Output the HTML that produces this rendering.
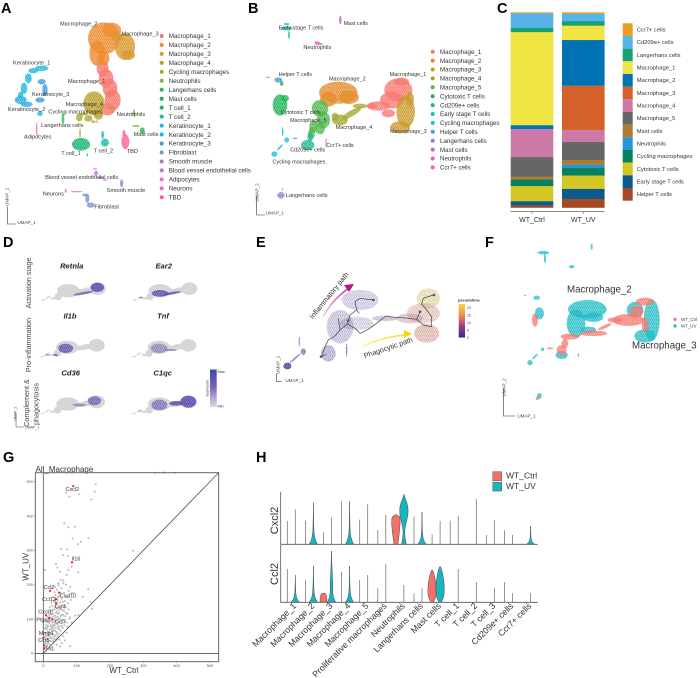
<!DOCTYPE html>
<html lang="en">
<head>
<meta charset="utf-8">
<title>Macrophage single-cell figure</title>
<style>
html,body{margin:0;padding:0;background:#fff;}
body{width:700px;height:678px;overflow:hidden;}
svg{display:block;filter:blur(.3px);font-family:"Liberation Sans",sans-serif;}
text{fill:#333;}
.letter{font-size:14.5px;font-weight:700;fill:#000;}
.rowlabel{font-size:7.2px;fill:#444;text-anchor:middle;}
.gene{font-size:7.6px;font-weight:700;font-style:italic;fill:#222;text-anchor:middle;}
.tiny{font-size:4.4px;fill:#444;}
</style>
</head>
<body>
<svg id="figure" width="700" height="678" viewBox="0 0 700 678" xmlns="http://www.w3.org/2000/svg">
<defs id="defs">
<linearGradient id="exprGrad" x1="0" y1="0" x2="0" y2="1"><stop offset="0" stop-color="#3a4ea8"/><stop offset=".45" stop-color="#7a62b5"/><stop offset="1" stop-color="#dcdcdc"/></linearGradient>
<linearGradient id="pseudoGrad" x1="0" y1="0" x2="0" y2="1"><stop offset="0" stop-color="#fbd53a"/><stop offset=".35" stop-color="#e98a55"/><stop offset=".65" stop-color="#a0408a"/><stop offset="1" stop-color="#2c2a86"/></linearGradient>
<linearGradient id="magGrad" gradientUnits="userSpaceOnUse" x1="323" y1="317" x2="352" y2="285"><stop offset="0" stop-color="#f6d4ea"/><stop offset="1" stop-color="#b3168c"/></linearGradient>
<linearGradient id="yelGrad" gradientUnits="userSpaceOnUse" x1="362" y1="347" x2="410" y2="334"><stop offset="0" stop-color="#fdf6c0"/><stop offset="1" stop-color="#f5d800"/></linearGradient>
<filter id="soft" x="-20%" y="-20%" width="140%" height="140%"><feGaussianBlur stdDeviation="0.25"/></filter>
</defs>

<text class="letter" x="1" y="13">A</text>
<text class="letter" x="248" y="13">B</text>
<text class="letter" x="497" y="13">C</text>
<text class="letter" x="3" y="247">D</text>
<text class="letter" x="256" y="247">E</text>
<text class="letter" x="485" y="247">F</text>
<text class="letter" x="3" y="462">G</text>
<text class="letter" x="256" y="462">H</text>

<g id="panelA"></g>
<g id="panelB"></g>
<g id="panelC"></g>

<g id="panelD">
<text class="rowlabel" transform="translate(31,283) rotate(-90)">Activation stage</text>
<text class="rowlabel" transform="translate(31,345) rotate(-90)">Pro-inflammation</text>
<text class="rowlabel" transform="translate(29,403) rotate(-90)">Complement &amp;</text>
<text class="rowlabel" transform="translate(38.5,404) rotate(-90)">phagocytosis</text>
<text class="gene" x="71.7" y="268.5">Retnla</text>
<text class="gene" x="163.7" y="268.5">Ear2</text>
<text class="gene" x="70" y="318.5">Il1b</text>
<text class="gene" x="163" y="318.5">Tnf</text>
<text class="gene" x="70.7" y="375.5">Cd36</text>
<text class="gene" x="162.7" y="375.5">C1qc</text>
<rect x="210" y="369.5" width="6.7" height="37.5" fill="url(#exprGrad)"/>
<text x="217.5" y="373" style="font-size:3.8px">Max.</text>
<text x="217.5" y="407.5" style="font-size:3.8px">Min.</text>
<text transform="translate(208.5,388) rotate(-90)" style="font-size:3.4px;text-anchor:middle">Expression</text>
<path d="M16 413V427H24" fill="none" stroke="#444" stroke-width=".5"/>
<text class="tiny" transform="translate(16.5,421) rotate(-90)" style="font-size:3.6px">UMAP_2</text>
<text class="tiny" x="25" y="428.5" style="font-size:3.6px">UMAP_1</text>
</g>

<g id="panelE"></g>
<g>
<path d="M323 317Q333 298 352 286" fill="none" stroke="url(#magGrad)" stroke-width="1.6"/>
<polygon points="354,284 344,285 349,292" fill="#b3168c"/>
<path d="M362 347Q383 336 408 335" fill="none" stroke="url(#yelGrad)" stroke-width="1.6"/>
<polygon points="412,334 404,330 404,338" fill="#f5d800"/>
<text transform="translate(331,297) rotate(-51)" style="font-size:7.2px;text-anchor:middle;fill:#333">Inflammatory path</text>
<text transform="translate(389,350) rotate(-19)" style="font-size:7.2px;text-anchor:middle;fill:#333">Phagocytic path</text>
<rect x="458.7" y="304" width="6.3" height="33.5" fill="url(#pseudoGrad)"/>
<text x="458" y="301.5" style="font-size:3.9px;font-weight:700">pseudotime</text>
<text x="467" y="309" style="font-size:3.4px">20</text>
<text x="467" y="316.5" style="font-size:3.4px">15</text>
<text x="467" y="324" style="font-size:3.4px">10</text>
<text x="467" y="331.5" style="font-size:3.4px">5</text>
<text x="467" y="339" style="font-size:3.4px">0</text>
</g>

<g id="panelF"></g>

<g id="panelG">
<text x="35.5" y="472" style="font-size:8px;fill:#333">All_Macrophage</text>
<text x="124" y="673" style="font-size:8px;text-anchor:middle;fill:#333">WT_Ctrl</text>
<text transform="translate(28.5,566.7) rotate(-90)" style="font-size:8px;text-anchor:middle;fill:#333">WT_UV</text>
</g>

<g id="panelH">
<text transform="translate(278,520.5) rotate(-90)" style="font-size:11px;text-anchor:middle;fill:#333">Cxcl2</text>
<text transform="translate(278,574) rotate(-90)" style="font-size:11px;text-anchor:middle;fill:#333">Ccl2</text>
</g>
</svg>
<script>
/* ---------- Panel A: UMAP blobs in UMAP units ---------- */
const panelANames = ['Macrophage_1','Macrophage_2','Macrophage_3','Macrophage_4','Cycling macrophages','Neutrophils','Langerhans cells','Mast cells','T cell_1','T cell_2','Keratinocyte_1','Keratinocyte_2','Keratinocyte_3','Fibroblast','Smooth muscle','Blood vessel endothelial cells','Adipocytes','Neurons','TBD'];
const panelAColors = ['#F8766D','#EE8A2E','#D9982B','#B9A029','#A9A82B','#7FB83A','#2DB84A','#22B050','#16B46E','#14BDAA','#1FB8DC','#22AEE8','#3A9BE0','#7C92D6','#A77BD6','#C46FD6','#EE6FC7','#F564B0','#F9619D'];
const panelABlobs = [
 [[308,205,18,24],[318,235,22,28],[330,265,22,28],[338,300,24,32],[322,328,24,18],[290,365,3,4],[275,355,3,3]],
 [[312,115,48,48],[292,160,24,38],[335,90,28,22],[310,175,18,22]],
 [[375,140,30,40],[350,110,17,15],[385,165,20,15]],
 [[282,310,32,36],[295,345,14,14]],
 [[238,352,10,12],[265,355,12,10],[250,342,14,4],[240,400,2.5,15],[280,365,6,4]],
 [[400,340,8,3],[402,338,3,12],[408,378,12,3],[335,325,5,2],[330,340,2,2]],
 [[189,355,4,18]],
 [[427,392,7,10]],
 [[243,433,27,19],[262,465,2,5]],
 [[315,428,12,12],[308,405,4,12]],
 [[125,205,20,8],[100,212,15,8],[85,235,10,15],[72,265,10,17],[62,285,8,10]],
 [[62,300,18,12],[80,313,18,8],[120,340,8,8]],
 [[125,245,12,8],[135,270,8,18],[120,300,14,8]],
 [[262,595,6,14],[272,615,12,8],[255,585,8,4]],
 [[365,550,5,12]],
 [[288,520,6,8],[300,533,9,3],[315,540,6,2],[285,507,6,2]],
 [[110,385,2.5,18],[114,405,2,6]],
 [[197,573,3,6],[230,575,18,2]],
 [[376,425,12,22],[372,400,5,10]]
];
const panelALabels = [['Macrophage_2',236,71],['Macrophage_3',420,101],['Keratinocyte_1',95,188],['Macrophage_1',260,244],['Keratinocyte_3',152,282],['Macrophage_4',253,312],['Keratinocyte_2',80,328],['Cycling macrophages',226,335],['Neutrophils',393,343],['Langerhans cells',187,375],['Adipocytes',113,410],['Mast cells',438,403],['T cell_1',213,459],['T cell_2',310,452],['TBD',397,454],['Blood vessel endothelial cells',245,532],['Smooth muscle',378,570],['Neurons',160,581],['Fibroblast',320,620]];

/* ---------- Panel B ---------- */
const panelBNames = ['Macrophage_1','Macrophage_2','Macrophage_3','Macrophage_4','Macrophage_5','Cytotoxic T cells','Cd209e+ cells','Early stage T cells','Cycling macrophages','Helper T cells','Langerhans cells','Mast cells','Neutrophils','Ccr7+ cells'];
const panelBColors = ['#F8766D','#E58A28','#C99A2A','#A3A52A','#4DB848','#1FB254','#17B890','#17BDB8','#20B5E8','#4A97E0','#8C80D2','#B66DC8','#E55FC0','#FB61A0'];
const panelBBlobs = [
 [[460,270,42,35],[440,300,35,25],[400,318,35,14],[470,245,22,12],[430,340,20,12],[380,318,15,8]],
 [[280,278,58,33],[250,298,25,22],[312,292,30,20]],
 [[482,335,28,48],[495,298,12,22],[465,382,30,18]],
 [[285,360,24,16],[320,340,32,9,-30],[345,318,22,7],[270,350,10,12]],
 [[225,325,25,25],[235,360,20,25],[225,385,15,18],[205,380,12,18],[200,400,10,18]],
 [[105,315,22,32],[120,295,12,10],[110,250,5,8]],
 [[188,435,20,15],[195,410,8,15]],
 [[125,85,18,6],[132,105,3,12],[125,72,8,3]],
 [[88,462,9,8],[105,442,12,3,-45],[125,420,7,8],[113,395,2.5,14],[150,415,8,2]],
 [[100,240,12,8],[68,232,6,2]],
 [[108,586,11,10],[112,568,2,4]],
 [[286,60,4,13]],
 [[218,130,8,6],[212,127,4,3],[228,132,5,3]],
 [[243,428,2,15]]
];
const panelBLabels = [['Early stage T cells',168,83],['Mast cells',332,69],['Neutrophils',217,142],['Helper T cells',151,222],['Macrophage_2',307,236],['Macrophage_1',489,222],['Cytotoxic T cells',167,336],['Macrophage_5',190,361],['Macrophage_4',327,382],['Macrophage_3',490,394],['Cd209e+ cells',188,449],['Ccr7+ cells',285,436],['Cycling macrophages',162,485],['Langerhans cells',185,585]];

/* ---------- Panel C ---------- */
const stackCategories = ['Ccr7+ cells','Cd209e+ cells','Langerhans cells','Macrophage_1','Macrophage_2','Macrophage_3','Macrophage_4','Macrophage_5','Mast cells','Neutrophils','Cycling macrophages','Cytotoxic T cells','Early stage T cells','Helper T cells'];
const stackColors = ['#E9A020','#56B4E9','#18A070','#F0E442','#0072B2','#D4612A','#CC79A7','#666666','#AD7C2F','#2596D6','#067F5A','#D4C724','#0A5A8E','#A34A22'];
const stackGroups = ['WT_Ctrl','WT_UV'];
const stackCtrl = [0.5,7.5,2.2,47.6,2.0,0,14.3,10.1,1.4,0,3.4,7.7,2.2,1.1];
const stackUV = [0.7,3.8,2.4,7.3,23.4,22.7,6.1,9.2,2.4,1.7,3.9,6.8,5.1,4.5];

/* ---------- Panel D ---------- */
const featureGenes = ['Retnla','Ear2','Il1b','Tnf','Cd36','C1qc'];
const featureOffsetU = [0,275,-3,272,-2,273];
const featureOffsetV = [0,0,170,170,340,340];
const featureBase = [[130,210,7,1.8,-20],[145,202,8,2.4,-30],[160,205,8,3.5],[175,200,11,11],[205,182,34,20],[242,184,25,7],[265,180,18,8],[293,176,24,19]];
const featureExpression = [
 [[292,172,20,14,0,1],[250,190,30,4,-10,.85]],
 [[205,190,25,10,0,.9],[240,190,28,4,-10,.95],[148,203,6,2,0,.8]],
 [[200,185,22,14,0,.85],[170,205,7,3,0,.8],[145,205,8,2,0,.7]],
 [[205,185,25,14,0,.45],[240,190,20,3,0,.6]],
 [[285,172,20,14,0,.7],[240,185,20,4,0,.55]],
 [[292,175,24,18,0,1],[255,180,20,7,0,1],[205,185,24,16,0,.6],[148,203,6,2,0,.4]]
];

/* ---------- Panel E ---------- */
const trajectoryBlobs = [
 [[505,205,35,30],'#c9b460',.42],[[490,250,50,30],'#c98a78',.4],[[500,310,38,28],'#c8806e',.48],[[450,265,40,15],'#b27a90',.4],
 [[300,210,55,30],'#7a68a8',.3],[[240,290,40,50],'#6b5a9b',.32],[[290,280,50,20],'#6b5a9b',.24],[[205,370,22,25],'#6b5a9b',.42],[[375,265,40,8],'#8a6a98',.4],
 [[82,408,12,10],'#45308c',.95],[[130,365,8,10],'#6a4fa0',.7],[[118,335,2,15],'#6a4fa0',.7],[[105,385,22,3,-40],'#6a4fa0',.7],[[260,360,2,20],'#5a4596',.7]
];
const trajectoryLines = [
 [[185,380],[195,350],[205,330],[225,318],[240,300],[262,282],[285,295],[300,310],[325,298],[350,280],[378,258],[400,262],[440,264],[470,268],[490,285],[515,290],[515,260],[500,240],[485,222],[490,205],[520,195]],
 [[262,282],[270,255],[290,240],[285,215],[300,205],[340,210]],
 [[470,268],[480,245]],[[290,240],[298,250]],[[240,300],[235,265]],[[185,380],[200,372]]
];
const trajectoryNodes = [[340,210],[183,380],[480,245],[522,195],[265,272]];

/* ---------- Panel F ---------- */
const conditionNames = ['WT_Ctrl','WT_UV'];
const conditionColors = ['#F8766D','#19BCC4'];
const conditionUV = [[292,238,58,28],[258,280,28,42],[310,262,30,14],[295,300,24,10],[485,270,24,62],[465,318,32,20],[435,240,25,24],[160,68,18,5],[165,85,3,15],[305,50,3,10],[245,110,8,5],[140,203,10,6],[105,196,3,2],[148,250,14,18],[120,398,8,8],[135,380,12,3,-45],[158,358,5,5],[148,498,7,9],[215,375,18,12],[265,375,2,5]];
const conditionCtrl = [[415,270,48,18],[465,215,28,12],[440,245,20,18],[375,270,22,8],[135,270,9,20],[310,310,42,8],[345,290,22,5,-25],[240,320,28,9],[215,360,15,15],[225,340,10,14],[142,505,5,5],[180,355,10,3],[465,285,10,22]];
const conditionLabels = [['Macrophage_2',328,178],['Macrophage_3',523,345]];

/* ---------- Panel G ---------- */
const scatterTicks = [0,100,200,300,400,500];
const backgroundGenes = [[157,492],[154,471],[108,463],[144,448],[78,456],[68,468],[63,379],[75,367],[95,369],[88,335],[135,336],[113,325],[104,318],[53,304],[72,303],[60,286],[73,283],[269,299],[38,260],[42,250],[85,252],[50,238],[75,243],[105,236],[5,243],[70,228],[45,204],[60,204],[80,194],[35,194],[25,189],[85,175],[135,187],[118,165],[75,165],[142,150],[146,130],[105,112],[80,21],[30,10],[335,526],[360,526],[365,526],[395,526],[70,526],
[3,12],[6,20],[9,16],[12,24],[5,30],[15,30],[20,26],[8,38],[14,42],[22,36],[28,34],[4,46],[11,52],[18,50],[26,46],[33,42],[38,40],[7,60],[14,64],[21,58],[29,56],[36,52],[44,50],[5,72],[12,76],[19,70],[25,68],[32,66],[40,62],[48,58],[9,84],[16,88],[23,82],[30,78],[37,74],[45,72],[52,66],[6,94],[13,98],[20,92],[27,90],[34,86],[42,84],[50,78],[58,74],[11,108],[18,112],[25,104],[32,100],[39,96],[47,92],[55,88],[63,82],[15,120],[22,124],[29,116],[36,110],[43,106],[51,102],[60,98],[70,90],[19,134],[26,138],[33,128],[40,122],[48,118],[56,112],[66,108],[24,148],[31,152],[38,142],[45,134],[53,128],[62,124],[72,116],[29,164],[36,170],[43,156],[50,148],[58,140],[68,134],[34,178],[41,186],[48,168],[55,160],[64,152],[74,146],[46,198],[54,190],[62,176],[70,164],[82,156],[52,214],[60,212],[68,200],[76,182],[90,176],[30,70],[35,95],[17,55],[44,115],[24,60],[10,70],[48,40],[60,50],[70,60],[55,30],[40,25],[72,78],[85,90],[95,110],[80,105],[65,38],[50,20],
[8,28],[16,36],[24,44],[32,50],[40,56],[10,44],[18,62],[26,74],[34,82],[42,90],[14,80],[22,96],[30,108],[38,118],[46,126],[16,104],[24,114],[28,126],[34,136],[42,148],[50,134],[58,126],[52,110],[60,112],[46,100],[54,96],[38,104],[30,92],[22,78],[36,66],[44,78],[28,82],[20,48],[12,34],[6,50],[8,76],[12,92],[18,100],[26,122],[36,152],[44,164],[52,176],[40,132],[58,150],[66,140],[76,128],[68,118],[78,100],[64,92],[56,80],[48,70],[40,44],[30,38]];
const highlightGenes = ['Cxcl2','Il16','Ccl2','Cxcl10','Ccl12','Ccl4','Cxcl1','Ptgs2','Ccl7','Mmp1','Ccr5','Tnf'];
const highlightCtrl = [90,86,20,47,38,38,8,18,27,0,2,2];
const highlightUV = [487,265,182,177,158,146,111,104,99,45,24,15];
const highlightLabelDX = [-1,4,-1,9,-7,4,-1,-6,8,3,0,5];
const highlightLabelDY = [5,-2,-2,5,2,5,-2,4,4,-3,-3,2];

/* ---------- Panel H ---------- */
const violinCategories = ['Macrophage_1','Macrophage_2','Macrophage_3','Macrophage_4','Macrophage_5','Proliferative macrophages','Neutrophils','Langerhans cells','Mast cells','T cell_1','T cell_2','T cell_3','Cd209e+ cells','Ccr7+ cells'];
const cxcl2Ctrl = [2.33,2.37,1.2,4.27,2.47,1.43,3.0,2.77,0.97,2.37,0,0.93,1.4,0];
const cxcl2UV = [3.5,4.17,2.67,4.3,4.0,2.93,5.0,3.23,2.33,2.87,4.53,2.43,0.93,1.83];
const ccl2Ctrl = [3.33,2.23,0.9,3.07,2.23,1.4,0,0.9,3.23,0,0,0,2.03,0];
const ccl2UV = [2.73,3.67,5.13,3.63,2.73,3.83,1.73,1.4,3.57,3.33,2.03,1.4,0.9,0.9];
const cxcl2CtrlShape = ['line','line','line','line','line','line','neutCtrl','line','line','line','line','line','line','line'];
const cxcl2UVShape = ['line','cone','line','cone','line','line','neutUV','cone','line','line','line','line','line','cone'];
const ccl2CtrlShape = ['line','line','flat','line','line','line','line','line','mast','line','line','line','line','line'];
const ccl2UVShape = ['cone','cone','coneTall','cone','line','line','line','line','mast','line','line','line','line','line'];
const violinProfiles = {
 cone:[1,.55,.3,.18,.12,.09,.07,.05,.04,.03,.02,0],
 coneTall:[1,.5,.3,.3,.3,.25,.2,.15,.1,.05,.03,0],
 neutCtrl:[.5,.55,.62,.7,.78,.85,.9,.95,1,1,.98,.9,0],
 neutUV:[.55,.4,.25,.2,.3,.5,.75,.95,1,.95,.7,.3,0],
 mast:[.3,.7,.9,1,1,.95,.9,.75,.6,.4,.1],
 flat:[1,1,1,1,.9,.8,.5]
};

/* ---------- helpers ---------- */
const SVGNS = 'http://www.w3.org/2000/svg';
const defs = document.getElementById('defs');
const slug = s => String(s).toLowerCase().replace(/[^a-z0-9]+/g,'-').replace(/^-|-$/g,'');
function mk(parent, tag, attrs, name){
  const el = document.createElementNS(SVGNS, tag);
  for (const k in attrs) el.setAttribute(k, attrs[k]);
  
  
  parent.appendChild(el);
  return el;
}
function label(parent, str, x, y, size, anchor, name, color, transform){
  const a = {x:x, y:y, 'font-size':size, 'text-anchor':anchor||'start'};
  if (color) a.style = 'fill:'+color;
  if (transform) { a.transform = transform; delete a.x; delete a.y; }
  const t = mk(parent,'text',a,name);
  t.textContent = str;
  return t;
}
let patternCount = 0;
const patternCache = {};
function stipple(color, alpha){
  const key = color + alpha;
  if (patternCache[key]) return patternCache[key];
  const id = 'pt' + (patternCount++);
  const p = document.createElementNS(SVGNS,'pattern');
  p.setAttribute('id',id);
  p.setAttribute('width',4);
  p.setAttribute('height',4);
  p.setAttribute('patternUnits','userSpaceOnUse');
  const r = document.createElementNS(SVGNS,'rect');
  r.setAttribute('width',4);
  r.setAttribute('height',4);
  r.setAttribute('fill',color);
  r.setAttribute('fill-opacity',alpha*0.7);
  p.appendChild(r);
  [[.6,.8],[2.6,.4],[1.6,2],[3.4,2.4],[.5,3.3],[2.4,3.4]].forEach(c=>{
    const d = document.createElementNS(SVGNS,'circle');
    d.setAttribute('cx',c[0]);
    d.setAttribute('cy',c[1]);
    d.setAttribute('r',.55);
    d.setAttribute('fill',color);
    d.setAttribute('fill-opacity',alpha);
    p.appendChild(d);
  });
  defs.appendChild(p);
  patternCache[key] = 'url(#'+id+')';
  return patternCache[key];
}
function blob(parent, b, xf, yf, fill, name){
  const cx = xf(b[0]), cy = yf(b[1]);
  const a = {cx:cx, cy:cy, rx:Math.max(xf(b[2])-xf(0),.7), ry:Math.max(yf(b[3])-yf(0),.7), fill:fill};
  if (b[4]) a.transform = 'rotate('+b[4]+' '+cx+' '+cy+')';
  mk(parent,'ellipse',a,name);
}
function umapAxes(parent, xf, yf, cu, cv, topV, rightU, lab2U, lab2V, lab1U, lab1V, suffix){
  mk(parent,'path',{d:'M'+xf(cu)+' '+yf(topV)+'V'+yf(cv)+'H'+xf(rightU),fill:'none',stroke:'#333','stroke-width':.6},'umap-axes-'+suffix);
  label(parent,'UMAP_2',0,0,4.6,'start','umap-2-label-'+suffix,'#444','translate('+xf(lab2U)+','+yf(lab2V)+') rotate(-90)');
  label(parent,'UMAP_1',xf(lab1U),yf(lab1V),4.6,'start','umap-1-label-'+suffix,'#444');
}
const scale3 = origin => (u => origin + u/3);

/* ---------- draw A ---------- */
const gA = document.getElementById('panelA');
const xA = scale3(0), yA = scale3(0);
panelABlobs.forEach((list,i)=>{
  const g = mk(gA,'g',{filter:'url(#soft)'},'cluster-'+slug(panelANames[i]));
  list.forEach(b=>blob(g,b,xA,yA,stipple(panelAColors[i],1),'cluster-blob'));
});
panelALabels.forEach(l=>label(gA,l[0],xA(l[1]),yA(l[2])+1.8,5.6,'middle','cluster-label-'+slug(l[0]),'#333'));
panelANames.forEach((n,i)=>{
  const y = 36 + i*8.96;
  mk(gA,'circle',{cx:161.7,cy:y,r:2,fill:panelAColors[i]},'legend-dot-'+slug(n));
  label(gA,n,168.7,y+2.2,6.3,'start','legend-entry-'+slug(n),'#333');
});
umapAxes(gA,xA,yA,22,672,620,48,25,618,52,672,'a');

/* ---------- draw B ---------- */
const gB = document.getElementById('panelB');
const xB = scale3(245), yB = scale3(0);
panelBBlobs.forEach((list,i)=>{
  const g = mk(gB,'g',{filter:'url(#soft)'},'cluster-b-'+slug(panelBNames[i]));
  list.forEach(b=>blob(g,b,xB,yB,stipple(panelBColors[i],.95),'cluster-blob'));
});
panelBLabels.forEach(l=>label(gB,l[0],xB(l[1]),yB(l[2])+1.8,5.5,'middle','cluster-b-label-'+slug(l[0]),'#333'));
panelBNames.forEach((n,i)=>{
  const y = 51.7 + i*8.9;
  mk(gB,'circle',{cx:432.7,cy:y,r:2,fill:panelBColors[i]},'legend-b-dot-'+slug(n));
  label(gB,n,440,y+2.2,6.2,'start','legend-b-entry-'+slug(n),'#333');
});
umapAxes(gB,xB,yB,35,645,590,60,40,605,62,644,'b');

/* ---------- draw C ---------- */
const gC = document.getElementById('panelC');
const stackX = [510.7,562];
const stackBarW = 42.6;
const stackTop = 12.3, stackH = 195.4;
const yStack = p => stackTop + p/100*stackH;
[stackCtrl,stackUV].forEach((vals,g)=>{
  let acc = 0;
  vals.forEach((v,i)=>{
    if (v>0) mk(gC,'rect',{x:stackX[g],y:yStack(acc),width:stackBarW,height:yStack(acc+v)-yStack(acc)+.1,fill:stackColors[i]},'bar-'+slug(stackGroups[g])+'-'+slug(stackCategories[i]));
    acc += v;
  });
  mk(gC,'line',{x1:stackX[g]+stackBarW/2,x2:stackX[g]+stackBarW/2,y1:211.7,y2:213.5,stroke:'#444','stroke-width':.6},'x-tick-'+slug(stackGroups[g]));
  label(gC,stackGroups[g],stackX[g]+stackBarW/2,222,7,'middle','x-label-'+slug(stackGroups[g]),'#333');
});
mk(gC,'line',{x1:510.7,x2:604.7,y1:211.7,y2:211.7,stroke:'#444','stroke-width':.7},'stack-x-axis');
stackCategories.forEach((n,i)=>{
  const y = 23.3 + i*12.67;
  mk(gC,'rect',{x:622.7,y:y,width:10,height:12.67,fill:stackColors[i]},'legend-c-swatch-'+slug(n));
  label(gC,n,636.7,y+8.2,5.8,'start','legend-c-entry-'+slug(n),'#333');
});

/* ---------- draw D ---------- */
const gD = document.getElementById('panelD');
const xD = u => u/3, yD = v => 230 + v/3;
featureGenes.forEach((gene,i)=>{
  const x = u => xD(u + featureOffsetU[i]), y = v => yD(v + featureOffsetV[i]);
  const rx = u => u/3, ry = v => v/3;
  const g = mk(gD,'g',{filter:'url(#soft)'},'feature-plot-'+slug(gene));
  featureBase.forEach(b=>mkBlobOffset(g,b,x,y,rx,ry,'#d6d6d6','feature-base-cell-group'));
  featureExpression[i].forEach(b=>mkBlobOffset(g,b,x,y,rx,ry,stipple('#5448b0',b[5]),'feature-expression-'+slug(gene)));
});
function mkBlobOffset(parent,b,x,y,rx,ry,fill,name){
  const cx = x(b[0]), cy = y(b[1]);
  const a = {cx:cx, cy:cy, rx:Math.max(rx(b[2]),.6), ry:Math.max(ry(b[3]),.6), fill:fill};
  if (b[4]) a.transform = 'rotate('+b[4]+' '+cx+' '+cy+')';
  mk(parent,'ellipse',a,name);
}

/* ---------- draw E ---------- */
const gE = document.getElementById('panelE');
const xE = scale3(260), yE = v => 230 + v/3;
const gEb = mk(gE,'g',{filter:'url(#soft)'},'trajectory-cells');
trajectoryBlobs.forEach(t=>blob(gEb,t[0],xE,yE,stipple(t[1],t[2]),'trajectory-cell-group'));
trajectoryLines.forEach(l=>{
  mk(gE,'polyline',{points:l.map(p=>xE(p[0])+','+yE(p[1])).join(' '),fill:'none',stroke:'#444','stroke-width':.7},'trajectory-line');
});
trajectoryNodes.forEach(p=>mk(gE,'circle',{cx:xE(p[0]),cy:yE(p[1]),r:1.3,fill:'#555'},'trajectory-node'));
umapAxes(gE,xE,yE,50,455,430,65,58,432,76,456,'e');

/* ---------- draw F ---------- */
const gF = document.getElementById('panelF');
const xF = scale3(490), yF = v => 230 + v/3;
const gFb = mk(gF,'g',{filter:'url(#soft)'},'condition-cells');
conditionUV.forEach(b=>blob(gFb,b,xF,yF,stipple(conditionColors[1],.9),'cells-wt-uv'));
conditionCtrl.forEach(b=>blob(gFb,b,xF,yF,stipple(conditionColors[0],.9),'cells-wt-ctrl'));
conditionLabels.forEach(l=>label(gF,l[0],xF(l[1]),yF(l[2])+3.3,9.7,'middle','condition-label-'+slug(l[0]),'#333'));
conditionNames.forEach((n,i)=>{
  const y = yF(268 + i*20);
  mk(gF,'circle',{cx:xF(555),cy:y,r:1.6,fill:conditionColors[i]},'legend-f-dot-'+slug(n));
  label(gF,n,xF(573),y+1.6,4.4,'start','legend-f-entry-'+slug(n),'#444');
});
umapAxes(gF,xF,yF,40,558,475,75,46,500,82,562,'f');

/* ---------- draw G ---------- */
const gG = document.getElementById('panelG');
const xG = v => 35.33 + (v + 24) * 0.3333;
const yG = v => 661.67 - (v + 24) * 0.3436;
scatterTicks.forEach(t=>{
  mk(gG,'line',{x1:xG(t),x2:xG(t),y1:661.7,y2:663,stroke:'#555','stroke-width':.5},'x-tick-'+t);
  label(gG,t,xG(t),667,3.9,'middle','x-tick-label-'+t,'#555');
  mk(gG,'line',{x1:34,x2:35.3,y1:yG(t),y2:yG(t),stroke:'#555','stroke-width':.5},'y-tick-'+t);
  label(gG,t,33,yG(t)+1.3,3.9,'end','y-tick-label-'+t,'#555');
});
backgroundGenes.forEach(p=>mk(gG,'circle',{cx:xG(p[0]),cy:yG(p[1]),r:1.05,fill:'#bdbdbd'},'background-gene-point'));
mk(gG,'rect',{x:xG(-24),y:yG(526),width:xG(526)-xG(-24),height:yG(-24)-yG(526),fill:'none',stroke:'#666','stroke-width':1},'scatter-plot-frame');
mk(gG,'line',{x1:xG(0),x2:xG(0),y1:yG(526),y2:yG(-24),stroke:'#555','stroke-width':.8},'vertical-zero-line');
mk(gG,'line',{x1:xG(-24),x2:xG(526),y1:yG(0),y2:yG(0),stroke:'#555','stroke-width':.8},'horizontal-zero-line');
mk(gG,'line',{x1:xG(0),x2:xG(526),y1:yG(0),y2:yG(526),stroke:'#333','stroke-width':.7},'identity-diagonal');
highlightGenes.forEach((n,i)=>{
  mk(gG,'circle',{cx:xG(highlightCtrl[i]),cy:yG(highlightUV[i]),r:1.1,fill:'#e8262a'},'highlight-point-'+slug(n));
  label(gG,n,xG(highlightCtrl[i])+highlightLabelDX[i],yG(highlightUV[i])+highlightLabelDY[i],5.4,'middle','highlight-label-'+slug(n),'#333');
});

/* ---------- draw H ---------- */
const gH = document.getElementById('panelH');
const xH = i => 291.3 + i*18.1;
const violinDX = [-4,4];
const topBase = 544.3, botBase = 602.3;
const conditionFill = ['#F0706A','#19B4BC'];
function violin(parent, cx, base, value, shape, half, fill, name){
  if (value <= 0) return;
  const top = base - value*10;
  if (shape === 'line') {
    mk(parent,'line',{x1:cx,x2:cx,y1:top,y2:base,stroke:'#707070','stroke-width':.75},name);
    return;
  }
  const prof = violinProfiles[shape];
  const n = prof.length - 1;
  const left = [], right = [];
  prof.forEach((w,k)=>{
    const y = base - (value*10)*k/n;
    left.push((cx - w*half)+','+y);
    right.unshift((cx + w*half)+','+y);
  });
  mk(parent,'polygon',{points:left.concat(right).join(' '),fill:fill,stroke:'#3d3d3d','stroke-width':.45,'stroke-linejoin':'round'},name);
}
[[cxcl2Ctrl,cxcl2CtrlShape,0,topBase,'cxcl2-ctrl'],[cxcl2UV,cxcl2UVShape,1,topBase,'cxcl2-uv'],[ccl2Ctrl,ccl2CtrlShape,0,botBase,'ccl2-ctrl'],[ccl2UV,ccl2UVShape,1,botBase,'ccl2-uv']].forEach(s=>{
  s[0].forEach((v,i)=>{
    const sh = s[1][i];
    const half = sh==='flat' ? 3.4 : 4.2;
    violin(gH,xH(i)+violinDX[s[2]],s[3],v,sh,half,conditionFill[s[2]],'violin-'+s[4]+'-'+slug(violinCategories[i]));
  });
});
mk(gH,'path',{d:'M280.7 491.7V544.3H537.7M280.7 545V602.3H537.7',fill:'none',stroke:'#555','stroke-width':.8},'violin-axes');
violinCategories.forEach((n,i)=>{
  mk(gH,'line',{x1:xH(i),x2:xH(i),y1:602.3,y2:604,stroke:'#555','stroke-width':.6},'violin-x-tick-'+slug(n));
  label(gH,n,0,0,8.7,'end','violin-x-label-'+slug(n),'#333','translate('+(xH(i)+5.5)+',606.5) rotate(-45)');
});
conditionNames.forEach((n,i)=>{
  const y = 471.7 + i*10.4;
  mk(gH,'rect',{x:492.7,y:y,width:9,height:9,fill:conditionFill[i],stroke:'#444','stroke-width':.4},'legend-h-swatch-'+slug(n));
  label(gH,n,506,y+7,8.5,'start','legend-h-entry-'+slug(n),'#333');
});
</script>
</body>
</html>
